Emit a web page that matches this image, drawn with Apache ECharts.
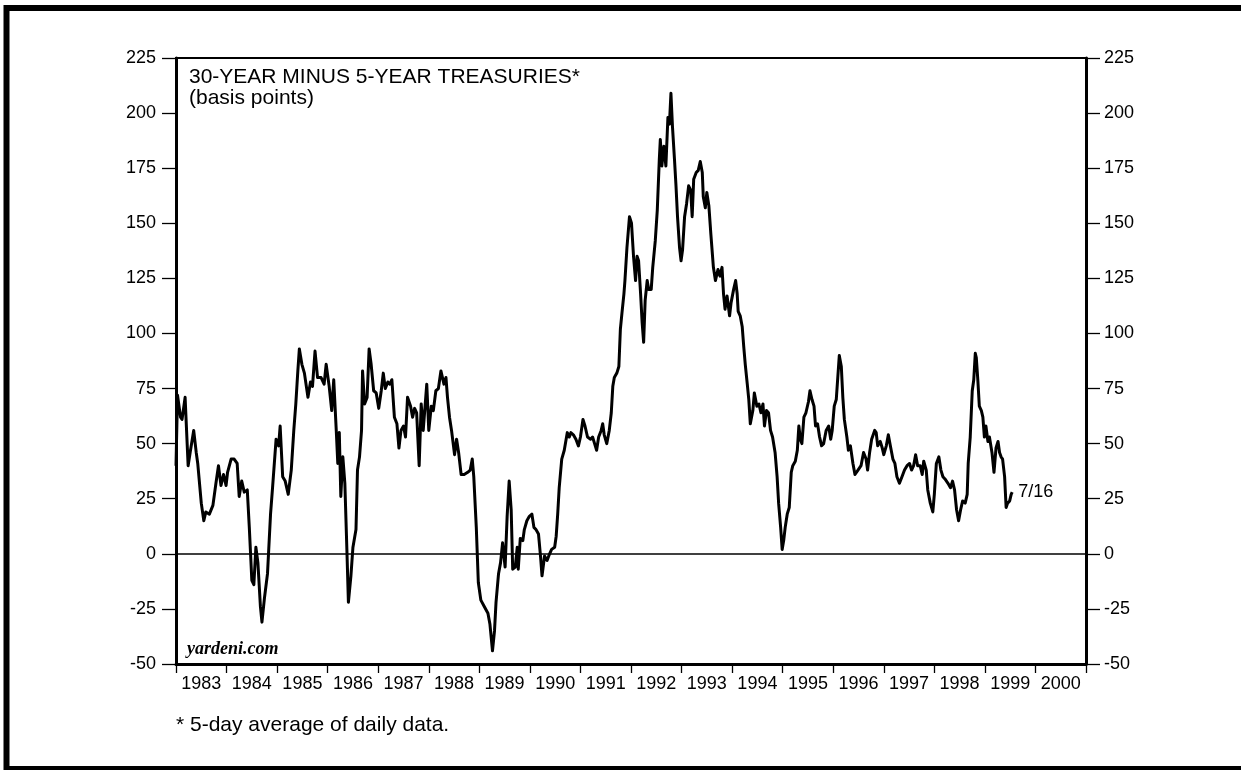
<!DOCTYPE html>
<html>
<head>
<meta charset="utf-8">
<script src="https://cdn.jsdelivr.net/npm/echarts@6.0.0/dist/echarts.min.js"></script>
<style>
html,body{margin:0;padding:0;background:#fff;}
#chart{width:1241px;height:770px;}
</style>
</head>
<body>
<div id="chart"></div>
<script>
// ---- DATA ----
const yearLabels = ['1983','1984','1985','1986','1987','1988','1989','1990','1991','1992','1993','1994','1995','1996','1997','1998','1999','2000'];
const yMin = -50, yMax = 225, yStep = 25;
const xMin = 1983, xMax = 2001;

const dates = [
  1983.00,1983.03,1983.09,1983.12,1983.18,1983.24,1983.28,1983.35,1983.40,1983.43,1983.50,1983.55,1983.59,1983.66,1983.73,1983.79,1983.84,1983.89,1983.94,1983.99,
  1984.02,1984.09,1984.15,1984.21,1984.25,1984.30,1984.35,1984.41,1984.45,1984.50,1984.54,1984.58,1984.62,1984.67,1984.70,1984.75,1984.81,1984.87,1984.91,1984.98,
  1985.03,1985.06,1985.11,1985.16,1985.22,1985.28,1985.33,1985.37,1985.41,1985.44,1985.49,1985.54,1985.61,1985.66,1985.70,1985.75,1985.80,1985.87,1985.93,1985.97,
  1986.03,1986.08,1986.12,1986.17,1986.20,1986.23,1986.26,1986.30,1986.34,1986.38,1986.41,1986.46,1986.50,1986.56,1986.59,1986.63,1986.67,1986.69,1986.73,1986.78,1986.82,1986.86,1986.91,1986.96,
  1987.01,1987.06,1987.10,1987.14,1987.19,1987.23,1987.27,1987.32,1987.37,1987.41,1987.45,1987.50,1987.54,1987.58,1987.64,1987.68,1987.72,1987.76,1987.81,1987.85,1987.89,1987.96,
  1988.00,1988.05,1988.09,1988.14,1988.19,1988.24,1988.30,1988.34,1988.37,1988.41,1988.45,1988.51,1988.55,1988.59,1988.64,1988.70,1988.77,1988.82,1988.86,1988.89,1988.94,1988.98,
  1989.03,1989.10,1989.17,1989.21,1989.26,1989.30,1989.33,1989.38,1989.42,1989.46,1989.51,1989.55,1989.59,1989.63,1989.66,1989.71,1989.75,1989.77,1989.81,1989.86,1989.89,1989.94,1989.99,
  1990.04,1990.08,1990.12,1990.17,1990.21,1990.24,1990.29,1990.34,1990.39,1990.43,1990.49,1990.52,1990.55,1990.58,1990.63,1990.68,1990.74,1990.78,1990.81,1990.86,1990.91,1990.96,
  1991.00,1991.05,1991.09,1991.14,1991.20,1991.24,1991.28,1991.32,1991.36,1991.41,1991.44,1991.47,1991.52,1991.57,1991.61,1991.64,1991.67,1991.72,1991.76,1991.79,1991.82,1991.86,1991.88,1991.92,1991.97,
  1992.01,1992.05,1992.09,1992.12,1992.15,1992.19,1992.22,1992.25,1992.28,1992.32,1992.35,1992.40,1992.43,1992.48,1992.52,1992.56,1992.58,1992.61,1992.65,1992.69,1992.73,1992.76,1992.79,1992.82,1992.86,1992.89,1992.92,1992.96,1992.99,
  1993.02,1993.06,1993.10,1993.14,1993.18,1993.21,1993.24,1993.29,1993.33,1993.37,1993.41,1993.43,1993.47,1993.50,1993.54,1993.58,1993.63,1993.67,1993.72,1993.76,1993.80,1993.83,1993.86,1993.90,1993.95,1993.98,
  1994.03,1994.07,1994.10,1994.12,1994.16,1994.20,1994.23,1994.26,1994.30,1994.33,1994.36,1994.41,1994.44,1994.49,1994.53,1994.57,1994.61,1994.64,1994.68,1994.72,1994.76,1994.80,1994.85,1994.89,1994.92,1994.96,1994.99,
  1995.02,1995.05,1995.09,1995.13,1995.17,1995.20,1995.25,1995.29,1995.32,1995.35,1995.38,1995.42,1995.46,1995.51,1995.54,1995.58,1995.62,1995.65,1995.69,1995.73,1995.77,1995.81,1995.86,1995.91,1995.95,1995.98,
  1996.02,1996.06,1996.09,1996.12,1996.16,1996.19,1996.22,1996.27,1996.30,1996.34,1996.39,1996.43,1996.49,1996.55,1996.60,1996.65,1996.68,1996.72,1996.76,1996.82,1996.85,1996.88,1996.93,1996.97,
  1997.00,1997.05,1997.09,1997.13,1997.18,1997.22,1997.26,1997.31,1997.36,1997.41,1997.46,1997.51,1997.55,1997.59,1997.63,1997.67,1997.72,1997.76,1997.79,1997.84,1997.87,1997.92,1997.97,
  1998.00,1998.04,1998.09,1998.13,1998.17,1998.21,1998.27,1998.32,1998.36,1998.40,1998.44,1998.48,1998.52,1998.56,1998.61,1998.65,1998.67,1998.71,1998.75,1998.78,1998.81,1998.83,1998.86,1998.89,1998.93,1998.96,1998.99,
  1999.02,1999.06,1999.09,1999.14,1999.18,1999.22,1999.26,1999.29,1999.32,1999.35,1999.39,1999.42,1999.45,1999.49,1999.52,1999.54
];

const spread = [
  40,72,62,61,71,40,46,56,46,41,23,15,19,18,22,32,40,31,36,31,
  37,43,43,41,26,33,28,29,12,-12,-14,3,-4,-24,-31,-20,-9,18,30,52,
  49,58,35,33,27,38,56,68,83,93,86,82,71,78,76,92,80,80,77,86,
  76,65,79,56,41,55,26,44,32,2,-22,-10,3,11,38,44,56,83,68,71,93,86,74,73,
  66,74,82,75,78,77,79,62,59,48,56,58,53,71,67,62,66,64,40,68,56,77,
  56,67,65,74,75,83,77,80,71,62,56,45,52,46,36,36,37,38,43,35,12,-13,
  -21,-24,-27,-32,-44,-35,-22,-9,-4,5,-6,17,33,20,-7,-6,3,-7,7,6,11,15,17,
  18,12,11,9,-1,-10,-1,-3,0,2,3,8,18,30,43,47,55,53,55,54,52,49,
  53,61,58,53,52,53,50,47,53,56,59,54,50,56,64,76,80,82,85,102,109,118,124,139,153,
  150,135,124,135,133,118,105,96,115,124,120,120,130,142,156,179,188,176,185,176,198,195,209,194,179,167,153,139,133,
  138,153,159,167,165,153,170,173,174,178,173,162,157,164,158,145,130,124,129,126,130,118,111,117,108,114,
  120,124,118,110,108,103,94,86,77,70,59,65,73,67,68,64,68,58,65,64,56,53,46,35,23,12,2,
  6,12,18,21,37,40,42,47,58,52,50,62,64,69,74,70,67,58,59,53,49,50,56,58,52,56,
  67,70,80,90,85,71,61,53,47,49,41,36,38,40,46,43,38,46,52,56,55,49,51,48,
  45,49,54,49,43,41,35,32,35,38,40,41,38,40,45,40,40,36,42,38,29,23,19,
  27,41,44,38,35,34,32,30,33,29,20,15,20,24,23,27,41,53,74,79,91,89,79,67,65,62,53,
  58,51,53,46,37,48,51,46,44,43,35,21,23,24,27,28
];

const titleLine1 = '30-YEAR MINUS 5-YEAR TREASURIES*';
const titleLine2 = '(basis points)';
const sourceText = 'yardeni.com';
const footnote = '* 5-day average of daily data.';
const endText = '7/16';

// ---- CHART ----
const FONT = '"Liberation Sans", Arial, Helvetica, sans-serif';
const points = dates.map((d, i) => [d, spread[i]]);

const yAxisBase = (pos, margin) => ({
  type: 'value', position: pos, min: yMin, max: yMax, interval: yStep,
  axisLine: { show: true, onZero: false, lineStyle: { color: '#000', width: 3 } },
  axisTick: { show: true, inside: false, length: 14, lineStyle: { color: '#000', width: 1.3 } },
  axisLabel: { margin: margin, color: '#000', fontFamily: FONT, fontSize: 18 },
  splitLine: { show: false }
});

const chart = echarts.init(document.getElementById('chart'), null, { renderer: 'canvas' });
chart.setOption({
  animation: false,
  backgroundColor: '#fff',
  grid: { left: 176, right: 155, top: 58, bottom: 106, show: true, borderColor: '#000', borderWidth: 2, backgroundColor: 'transparent' },
  xAxis: [
    {
      type: 'value', min: xMin, max: xMax, interval: 1, position: 'bottom',
      axisLine: { show: true, onZero: false, lineStyle: { color: '#000', width: 3 } },
      axisTick: { show: true, inside: false, length: 9, lineStyle: { color: '#000', width: 1.3 } },
      axisLabel: { show: false },
      splitLine: { show: false }
    },
    {
      type: 'category', data: yearLabels, position: 'bottom', boundaryGap: true,
      axisLine: { show: false }, axisTick: { show: false },
      axisLabel: { interval: 0, margin: 11, color: '#000', fontFamily: FONT, fontSize: 18 },
      splitLine: { show: false }
    }
  ],
  yAxis: [ yAxisBase('left', 20), yAxisBase('right', 18) ],
  series: [{
    type: 'line', xAxisIndex: 0, yAxisIndex: 0, data: points,
    showSymbol: false, symbol: 'none', smooth: false,
    lineStyle: { color: '#000', width: 3, join: 'round' },
    endLabel: { show: true, formatter: endText, color: '#000', fontFamily: FONT, fontSize: 18, distance: 6 },
    markLine: {
      silent: true, symbol: ['none', 'none'], label: { show: false },
      lineStyle: { color: '#000', width: 1.5, type: 'solid' },
      data: [{ yAxis: 0 }]
    }
  }],
  graphic: [
    { type: 'rect', silent: true, shape: { x: 6.5, y: 8, width: 1300, height: 761 }, style: { fill: null, stroke: '#000', lineWidth: 6 } },
    { type: 'text', x: 189, y: 77, style: { text: titleLine1, fill: '#000', font: '21px ' + FONT, verticalAlign: 'middle' } },
    { type: 'text', x: 189, y: 98, style: { text: titleLine2, fill: '#000', font: '21px ' + FONT, verticalAlign: 'middle' } },
    { type: 'text', x: 187, y: 649, style: { text: sourceText, fill: '#000', font: 'italic bold 18px "Liberation Serif", "DejaVu Serif", serif', verticalAlign: 'middle' } },
    { type: 'text', x: 176, y: 725, style: { text: footnote, fill: '#000', font: '21px ' + FONT, verticalAlign: 'middle' } }
  ]
});
</script>
</body>
</html>
